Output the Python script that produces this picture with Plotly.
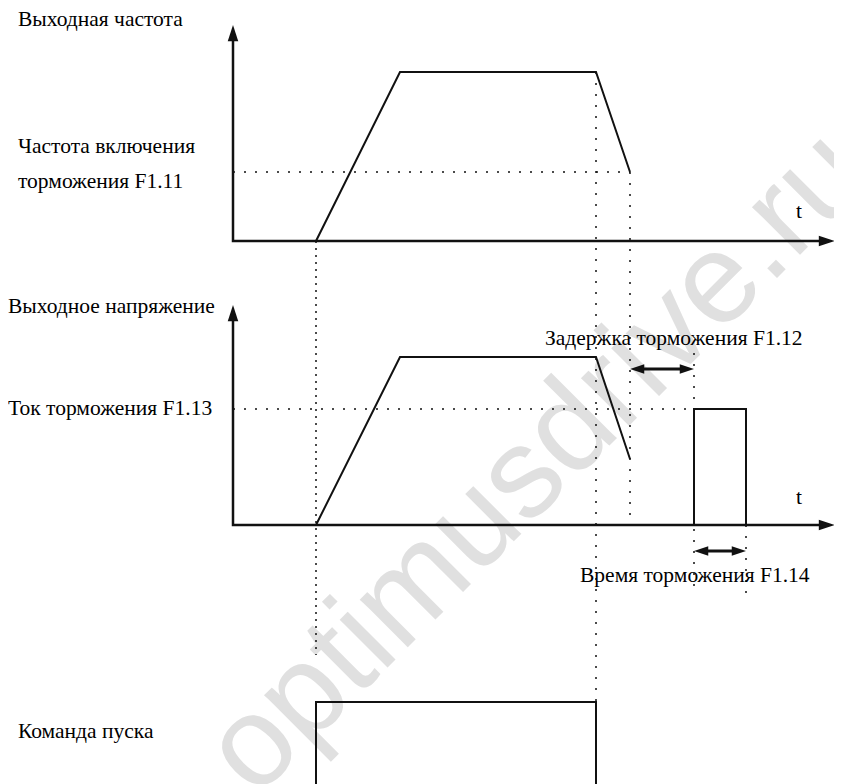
import plotly.graph_objects as go

# time marks (units from the axis origin)
t_end = 602        # tip of the time axes
t_run = 83         # run command on, ramp start
t_top = 167        # end of acceleration
t_stop = 363       # run command off, deceleration start
t_brake = 397      # frequency reaches brake frequency
t_dc_on = 461      # DC braking start (after delay F1.12)
t_dc_off = 513     # DC braking end (time F1.14)

# panel baselines
base_f = 543
base_u = 259
base_run = 0

# output frequency
freq_t = [t_run, t_top, t_stop, t_brake]
freq_v = [0, 169, 169, 69]
f_brake = 69
f_axis_top = 216

# output voltage / braking current
volt_t = [t_run, t_top, t_stop, t_brake]
volt_v = [0, 168, 168, 66]
i_brake = 116
u_axis_top = 220
dc_t = [t_dc_on, t_dc_on, t_dc_off, t_dc_off]
dc_v = [0, i_brake, i_brake, 0]

# run command
run_t = [t_run, t_run, t_stop, t_stop]
run_v = [0, 82, 82, 0]

BLACK = '#111111'
FONT = 'Liberation Serif'

fig = go.Figure()


def line(xs, ys, width=2, dash=None, color=BLACK):
    fig.add_trace(go.Scatter(x=xs, y=ys, mode='lines', hoverinfo='skip',
                             line=dict(color=color, width=width, dash=dash)))


def arrow_heads(xs, ys, angles, size=16):
    fig.add_trace(go.Scatter(x=xs, y=ys, mode='markers', hoverinfo='skip',
                             marker=dict(symbol='arrow', size=size, color=BLACK,
                                         angle=angles, line=dict(width=0))))


DOT = '2px,9px'

# guides
line([0, t_brake], [base_f + f_brake] * 2, 1.5, DOT)
line([0, t_dc_on], [base_u + i_brake] * 2, 1.5, DOT)
line([t_run, t_run], [base_f, 129], 1.5, '2px,5px')
line([t_stop, t_stop], [base_f + freq_v[1], base_run + run_v[1]], 1.5, DOT)
line([t_brake, t_brake], [base_f + f_brake, base_u], 1.5, DOT)
line([t_dc_on, t_dc_on], [431, 191], 1.5, DOT)
line([t_dc_off, t_dc_off], [base_u, 191], 1.5, DOT)

# axes with arrows
for base, top in [(base_f, f_axis_top), (base_u, u_axis_top)]:
    line([0, 0, t_end - 10], [base + top - 10, base, base], 2.5)
    arrow_heads([0, t_end], [base + top, base], [0, 90], 17)

# signals
line(freq_t, [base_f + v for v in freq_v], 2)
line(volt_t, [base_u + v for v in volt_v], 2)
line(dc_t, [base_u + v for v in dc_v], 2)
line(run_t, [base_run + v for v in run_v], 2)

# dimension arrows
delay_y = base_u + 156
time_y = base_u - 26
line([t_brake + 8, t_dc_on - 8], [delay_y] * 2, 3)
arrow_heads([t_brake, t_dc_on], [delay_y] * 2, [-90, 90], 15)
line([t_dc_on + 8, t_dc_off - 8], [time_y] * 2, 3)
arrow_heads([t_dc_on, t_dc_off], [time_y] * 2, [-90, 90], 15)

# (text, x, y, xshift)
labels = [
    ('Выходная частота', -217, 765, 0),
    ('Частота включения', -217, 638, 0),
    ('торможения F1.11', -217, 603, 0),
    ('t', 561, 573, 0),
    ('Выходное напряжение', -225, 478, -2),
    ('Ток торможения F1.13', -225, 376, -2),
    ('t', 561, 287, 0),
    ('Задержка торможения F1.12', 310, 446, 0),
    ('Время торможения F1.14', 345, 209, 0),
    ('Команда пуска', -217, 53, 0),
]
for text, x, y, dx in labels:
    fig.add_annotation(x=x, y=y, text=text, showarrow=False, xanchor='left', xshift=dx,
                       yanchor='middle', font=dict(family=FONT, size=21.5, color='black'))

# watermark
fig.add_shape(type='rect', x0=92, x1=492, y0=134, y1=534, layer='below',
              line=dict(width=0), fillcolor='rgba(0,0,0,0)',
              label=dict(text='optimusdrive.ru', textangle=-45,
                         font=dict(family='Liberation Sans', size=128, color='#e0e0e0')))

# page body keeps an 8px margin, so the figure is 8px smaller than the window
fig.update_layout(width=834, height=776, margin=dict(l=0, r=0, t=0, b=0, autoexpand=False),
                  paper_bgcolor='white', plot_bgcolor='white', showlegend=False)
fig.update_xaxes(range=[-225, 609], visible=False, fixedrange=True)
fig.update_yaxes(range=[0, 776], visible=False, fixedrange=True)

fig.write_html('out.html')
